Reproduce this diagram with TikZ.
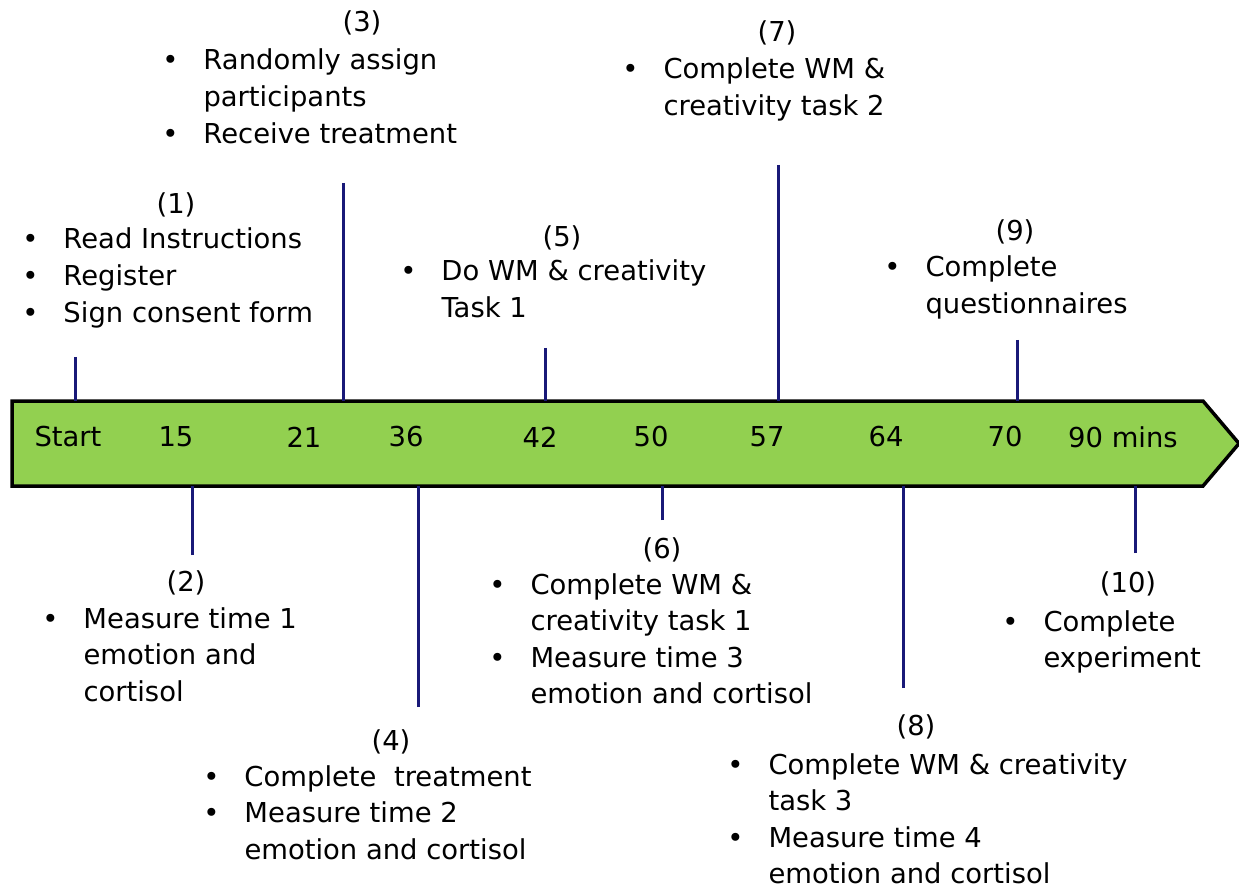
\documentclass[tikz,border=0pt]{standalone}
\usepackage{fontspec}
\setmainfont{DejaVu Sans}
\definecolor{bargreen}{RGB}{146,208,80}
\definecolor{ticknavy}{RGB}{25,25,120}
\newcommand{\bl}{\textbullet}
\begin{document}
\begin{tikzpicture}[x=0.02cm,y=-0.02cm,
  every node/.style={font=\fontsize{15.6}{20.8}\selectfont},
  tick/.style={draw=ticknavy,line width=0.06cm},
  tlbl/.style={inner sep=0pt},
  num/.style={inner sep=0pt},
  lst/.style={inner sep=0pt,anchor=base west}]
\useasboundingbox (0,0) rectangle (1239,891);
% the time bar
\coordinate (bartop) at (12,401);
\coordinate (barbot) at (12,486);
\draw[line width=0.07cm,fill=bargreen,line join=miter]
  (bartop) -- (1203,401) -- (1239,443.5) -- (1203,486) -- (barbot) -- cycle;
\foreach \t/\x [count=\k] in {Start/68, 15/176, 21/304, 36/406, 42/540, 50/651, 57/767, 64/886, 70/1005, 90 mins/1123}
    \node[tlbl] (m\k) at (\x,437) {\t};
% ticks above and below the bar
\foreach \x/\y [count=\k] in {75/357, 343/183, 545/348, 778/165, 1017/340}
  {\coordinate (up\k) at (\x,\y);
   \draw[tick] (up\k) -- (up\k |- bartop);}
\foreach \x/\y [count=\k] in {192/555, 418/707, 662/520, 903/688, 1135/553}
  {\coordinate (dn\k) at (\x,\y);
   \draw[tick] (dn\k) -- (dn\k |- barbot);}
% step numbers
\foreach \n/\x/\y in {1/176/205, 3/362/23, 5/562/238, 7/777/33, 9/1015/232,
                      2/186/583, 4/391/742, 6/662/550, 8/916/727, 10/1128/584}
    \node[num] (n\n) at (\x,\y) {(\n)};
% bullet lists
\node[lst] (s1) at (22,249) {\begin{tabular}[t]{@{}l@{\hspace{0.5cm}}l@{}}
  \bl & Read Instructions\\ \bl & Register\\ \bl & Sign consent form\end{tabular}};
\node[lst] (s3) at (162,70) {\begin{tabular}[t]{@{}l@{\hspace{0.5cm}}l@{}}
  \bl & Randomly assign\\ & participants\\ \bl & Receive treatment\end{tabular}};
\node[lst] (s5) at (400,281) {\begin{tabular}[t]{@{}l@{\hspace{0.5cm}}l@{}}
  \bl & Do WM \& creativity\\ & Task 1\end{tabular}};
\node[lst] (s7) at (622,79) {\begin{tabular}[t]{@{}l@{\hspace{0.5cm}}l@{}}
  \bl & Complete WM \&\\ & creativity task 2\end{tabular}};
\node[lst] (s9) at (884,277) {\begin{tabular}[t]{@{}l@{\hspace{0.5cm}}l@{}}
  \bl & Complete\\ & questionnaires\end{tabular}};
\node[lst] (s2) at (42,628) {\begin{tabular}[t]{@{}l@{\hspace{0.5cm}}l@{}}
  \bl & Measure time 1\\ & emotion and\\ & cortisol\end{tabular}};
\node[lst] (s4) at (203,786) {\begin{tabular}[t]{@{}l@{\hspace{0.5cm}}l@{}}
  \bl & Complete~ treatment\\ \bl & Measure time 2\\ & emotion and cortisol\end{tabular}};
\node[lst] (s6) at (489,594) {\begin{tabular}[t]{@{}l@{\hspace{0.5cm}}l@{}}
  \bl & Complete WM \&\\ & creativity task 1\\ \bl & Measure time 3\\ & emotion and cortisol\end{tabular}};
\node[lst] (s8) at (727,774) {\begin{tabular}[t]{@{}l@{\hspace{0.5cm}}l@{}}
  \bl & Complete WM \& creativity\\ & task 3\\ \bl & Measure time 4\\ & emotion and cortisol\end{tabular}};
\node[lst] (s10) at (1002,631) {\begin{tabular}[t]{@{}l@{\hspace{0.5cm}}l@{}}
  \bl & Complete\\ & experiment\end{tabular}};
\end{tikzpicture}
\end{document}
